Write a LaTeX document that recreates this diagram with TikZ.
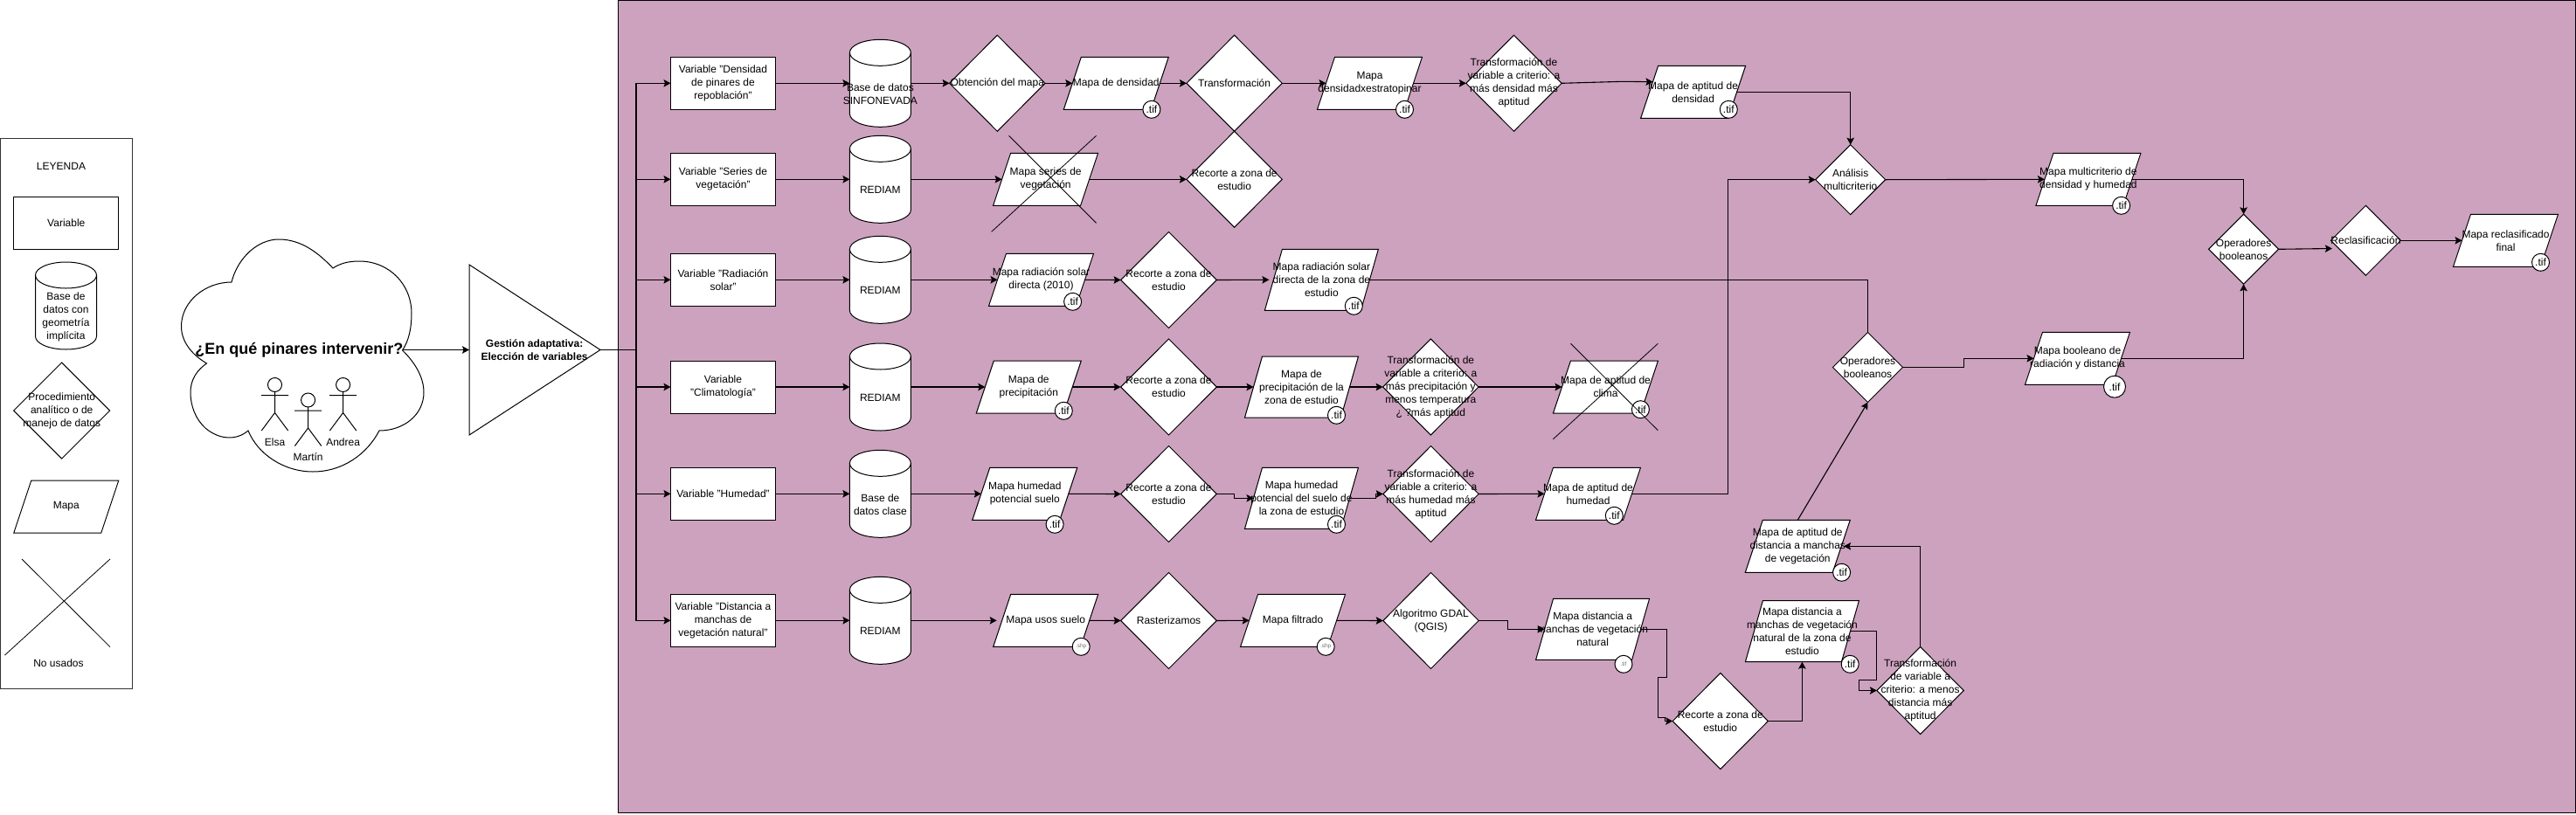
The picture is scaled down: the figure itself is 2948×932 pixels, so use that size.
\documentclass[tikz,border=0pt]{standalone}
\usepackage{fontspec}
\setmainfont{Liberation Sans}
\usetikzlibrary{shapes.geometric,arrows.meta}
\definecolor{panelpurple}{HTML}{CDA2BE}
\tikzset{
  shapeline/.style={draw=black,line width=1pt,fill=white,line join=miter},
  txt/.style={font=\fontsize{12}{15}\selectfont,align=center,inner sep=0pt,outer sep=0pt,text=black},
  vbox/.style={shapeline,rectangle,minimum width=120pt,minimum height=60pt,inner sep=0pt,outer sep=0pt,txt},
  hollow/.style={rectangle,inner sep=0pt,outer sep=0pt,txt},
  dia/.style={shapeline,diamond,aspect=1,inner sep=0pt,outer sep=0pt},
  badge/.style={shapeline,circle,inner sep=0pt,outer sep=0pt,minimum size=20pt,txt},
  conn/.style={draw=black,line width=1.1pt,line join=miter},
  arr/.style={conn,-{Stealth[length=8pt,width=8.5pt,inset=1.5pt]}},
  crossline/.style={draw=black,line width=0.8pt},
}
% parallelogram: name, cx, cy, w, h, text
\newcommand{\mapa}[6]{%
  \path[shapeline] ({#2-#4/2+20},{#3-#5/2}) -- ({#2+#4/2},{#3-#5/2}) -- ({#2+#4/2-20},{#3+#5/2}) -- ({#2-#4/2},{#3+#5/2}) -- cycle;
  \node[hollow,minimum width=#4pt,minimum height=#5pt] (#1) at (#2,#3) {#6};
  \coordinate (#1-l) at ({#2-#4/2+10},#3);
  \coordinate (#1-r) at ({#2+#4/2-10},#3);
}
% diamond: name, cx, cy, halfw, halfh, text
\newcommand{\proc}[6]{%
  \node[dia,minimum width={2*#4 pt},minimum height={2*#5 pt},label={[txt]center:{#6}}] (#1) at (#2,#3) {};
}
% cylinder: name, cx, ytop, ybottom, text, text y
\newcommand{\dbcyl}[6]{%
  \path[shapeline] ({#2-35},{#3+15}) .. controls ({#2-35},{#3+6.7}) and ({#2-19.3},#3) .. (#2,#3)
    .. controls ({#2+19.3},#3) and ({#2+35},{#3+6.7}) .. ({#2+35},{#3+15})
    -- ({#2+35},{#4-15}) .. controls ({#2+35},{#4-6.7}) and ({#2+19.3},#4) .. (#2,#4)
    .. controls ({#2-19.3},#4) and ({#2-35},{#4-6.7}) .. ({#2-35},{#4-15}) -- cycle;
  \path[draw=black,line width=1pt] ({#2-35},{#3+15}) .. controls ({#2-35},{#3+23.3}) and ({#2-19.3},{#3+30}) .. (#2,{#3+30})
    .. controls ({#2+19.3},{#3+30}) and ({#2+35},{#3+23.3}) .. ({#2+35},{#3+15});
  \node[hollow,minimum width=70pt,minimum height={#4-#3 pt}] (#1) at (#2,{(#3+#4)/2}) {};
  \node[txt] (#1-t) at (#2,#6) {#5};
}
\newcommand{\tifb}[3]{\node[badge] (#1) at (#2,#3) {.tif};}
\newcommand{\shpb}[3]{\node[badge,font=\fontsize{6.5}{8}\selectfont,text=black!55] (#1) at (#2,#3) {.shp};}
\newcommand{\crossmark}[8]{%
  \draw[crossline] (#1,#2) -- (#3,#4);
  \draw[crossline] (#5,#6) -- (#7,#8);
}
% stick figure: name, x, head y, label
\newcommand{\actor}[4]{%
  \draw[crossline,line width=1pt] (#2,#3) circle[radius=8pt];
  \draw[crossline,line width=1pt] (#2,{#3+7.8}) -- (#2,{#3+32}) -- ({#2-15.2},{#3+52.5}) (#2,{#3+32}) -- ({#2+15.2},{#3+52.5}) ({#2-15.5},{#3+12.2}) -- ({#2+15.5},{#3+12.2});
  \node[txt] (#1) at (#2,{#3+65.5}) {#4};
}
\begin{document}
\begin{tikzpicture}[x=1pt,y=-1pt]
\useasboundingbox (0,0) rectangle (2948,932);
% panel
\path[draw=black,line width=1.4pt,fill=panelpurple] (707.5,0.7) rectangle (2947.3,930.5);

% legend
\path[draw=black!80,line width=1pt,fill=white] (0.5,158) rectangle (151,788);
\node[txt] (leg-title) at (70,190) {LEYENDA};
\node[vbox] (leg-var) at (75.8,255) {Variable};
\dbcyl{leg-db}{75.5}{300}{400}{Base de\\datos con\\geometría\\implícita}{363}
\proc{leg-proc}{70.7}{470}{55}{55}{Procedimiento\\analítico o de\\manejo de datos}
\mapa{leg-map}{75.8}{580}{120}{60}{Mapa}
\crossmark{25}{640}{126}{740.6}{126}{640}{5.5}{750}
\node[txt] (leg-no) at (67,759.5) {No usados};

% cloud
\path[shapeline] (265,323) .. controls (272,295) and (295,274) .. (319,274) .. controls (345,274) and (365,290) .. (381,307)
  .. controls (390,301) and (400,299) .. (411,299) .. controls (445,299) and (471,325) .. (471,359) .. controls (471,375) and (468,390) .. (460.5,401)
  .. controls (475,415) and (485,432) .. (485,449) .. controls (485,475) and (462,493) .. (434,493)
  .. controls (420,520) and (392,540) .. (358,540) .. controls (325,540) and (295,520) .. (284,493)
  .. controls (270,505) and (250,503) .. (235,490) .. controls (224,480) and (218,465) .. (218,449) .. controls (218,435) and (225,424) .. (236.5,416)
  .. controls (218,405) and (207.5,390) .. (207.5,373.6) .. controls (207.5,345) and (235,323) .. (265,323) -- cycle;
\node[txt,font=\bfseries\fontsize{18}{21}\selectfont] (question) at (342.3,400.5) {¿En qué pinares intervenir?};
\actor{elsa}{314.5}{440.5}{Elsa}
\actor{martin}{352.6}{458}{Martín}
\actor{andrea}{392.6}{440.5}{Andrea}

% triangle
\path[shapeline] (537,303) -- (687,400.5) -- (537,498) -- cycle;
\coordinate (tri-w) at (537,400.5);
\coordinate (tri-e) at (687,400.5);
\node[txt,font=\bfseries\fontsize{12}{15}\selectfont] (tri) at (611.6,400.5) {Gestión adaptativa:\\Elección de variables};
\coordinate (bus) at (728,400.5);

% variables
\node[vbox] (v1) at (827.5,95.3) {Variable "Densidad\\de pinares de\\repoblación"};
\node[vbox] (v2) at (827.5,205.3) {Variable "Series de\\vegetación"};
\node[vbox] (v3) at (827.5,320.3) {Variable "Radiación\\solar"};
\node[vbox] (v4) at (827.5,443) {Variable\\"Climatología"};
\node[vbox] (v5) at (827.5,565.3) {Variable "Humedad"};
\node[vbox] (v6) at (827.5,710.3) {Variable "Distancia a\\manchas de\\vegetación natural"};

% databases
\dbcyl{c1}{1007.4}{45.3}{145.3}{Base de datos\\SINFONEVADA}{108}
\dbcyl{c2}{1007.4}{155.3}{255.3}{REDIAM}{217.7}
\dbcyl{c3}{1007.4}{270.3}{370.3}{REDIAM}{332.7}
\dbcyl{c4}{1007.4}{393}{493}{REDIAM}{455.7}
\dbcyl{c5}{1007.4}{515.3}{615.3}{Base de\\datos clase}{578}
\dbcyl{c6}{1007.4}{660.3}{760.3}{REDIAM}{722.7}

% row 1
\proc{d1a}{1141.3}{95.3}{54.7}{55}{Obtención del mapa}
\mapa{p1a}{1277.3}{95.3}{120}{60}{Mapa de densidad}
\proc{d1b}{1412.6}{95.3}{54.7}{55}{Transformación}
\mapa{p1b}{1567.5}{95.3}{120}{60}{Mapa\\densidadxestratopinar}
\proc{d1c}{1732.5}{95.3}{54.7}{55}{Transformación de\\variable a criterio: a\\más densidad más\\aptitud}
\mapa{p1c}{1937.6}{105.3}{120}{60}{Mapa de aptitud de\\densidad}
\tifb{t1a}{1317.9}{125.3}
\tifb{t1b}{1607.5}{125.3}
\tifb{t1c}{1978.3}{125.3}

% row 2
\mapa{p2a}{1196.6}{205.3}{120}{60}{Mapa series de\\vegetación}
\proc{d2a}{1412.6}{205.3}{54.7}{55}{Recorte a zona de\\estudio}

% row 3
\mapa{p3a}{1191.5}{320.3}{120}{60}{Mapa radiación solar\\directa (2010)}
\proc{d3a}{1337.5}{320.5}{54.9}{55}{Recorte a zona de\\estudio}
\mapa{p3b}{1512.4}{320.3}{130}{70}{Mapa radiación solar\\directa de la zona de\\estudio}
\tifb{t3a}{1227.6}{345.3}
\tifb{t3b}{1549.3}{350.3}

% row 4
\mapa{p4a}{1177.3}{443}{120}{60}{Mapa de\\precipitación}
\proc{d4a}{1337.5}{443}{54.9}{55}{Recorte a zona de\\estudio}
\mapa{p4b}{1489.5}{443}{130}{70}{Mapa de\\precipitación de la\\zona de estudio}
\proc{d4b}{1637.3}{443}{54.7}{55}{Transformación de\\variable a criterio: a\\más precipitación y\\menos temperatura\\¿ ?más aptitud}
\mapa{p4c}{1837.5}{443}{120}{60}{Mapa de aptitud de\\clima}
\tifb{t4a}{1217.3}{470.3}
\tifb{t4b}{1529.5}{475.3}
\tifb{t4c}{1877.4}{468.7}

% row 5
\mapa{p5a}{1172.8}{565.3}{120}{60}{Mapa humedad\\potencial suelo}
\proc{d5a}{1337.5}{565.5}{54.9}{55}{Recorte a zona de\\estudio}
\mapa{p5b}{1489.5}{570.3}{130}{70}{Mapa humedad\\potencial del suelo de\\la zona de estudio}
\proc{d5b}{1637.5}{565.5}{54.7}{55}{Transformación de\\variable a criterio: a\\más humedad más\\aptitud}
\mapa{p5c}{1817.5}{565.3}{120}{60}{Mapa de aptitud de\\humedad}
\tifb{t5a}{1207.1}{600.3}
\tifb{t5b}{1529.5}{600.3}
\tifb{t5c}{1847.3}{590.3}

% row 6
\mapa{p6a}{1196.7}{710.3}{120}{60}{Mapa usos suelo}
\proc{d6a}{1337.5}{710.5}{54.9}{55}{Rasterizamos}
\mapa{p6b}{1479.6}{710.3}{120}{60}{Mapa filtrado}
\proc{d6b}{1637.5}{710.5}{54.7}{55}{Algoritmo GDAL\\(QGIS)}
\mapa{p6c}{1822.6}{720.3}{130}{70}{Mapa distancia a\\manchas de vegetación\\natural}
\shpb{t6a}{1237.2}{740.3}
\shpb{t6b}{1517.2}{740.3}
\node[badge,font=\fontsize{6.5}{8}\selectfont,text=black!55] (t6c) at (1858,760.3) {.tif};

% bottom right group
\proc{d7}{1968.8}{825.5}{54.6}{55}{Recorte a zona de\\estudio}
\mapa{p7}{2062.4}{722.7}{130}{70}{Mapa distancia a\\manchas de vegetación\\natural de la zona de\\estudio}
\proc{d8}{2197.6}{790.5}{49.7}{50}{Transformación\\de variable a\\criterio: a menos\\distancia más\\aptitud}
\mapa{p8}{2057.3}{625.3}{120}{60}{Mapa de aptitud de\\distancia a manchas\\de vegetación}
\tifb{t7}{2117.2}{760.3}
\tifb{t8}{2107.6}{655.3}

% analysis
\proc{am}{2117.7}{205.7}{40}{40}{Análisis\\multicriterio}
\proc{ob1}{2137.5}{420.5}{40}{40}{Operadores\\booleanos}
\mapa{p9}{2389.9}{205.3}{120}{60}{Mapa multicriterio de\\densidad y humedad}
\mapa{p10}{2377.5}{410.3}{120}{60}{Mapa booleano de\\radiación y distancia}
\proc{ob2}{2567.6}{285.3}{40}{40}{Operadores\\booleanos}
\proc{rc}{2707.4}{275.3}{40}{40}{Reclasificación}
\mapa{p11}{2867.5}{275.3}{120}{60}{Mapa reclasificado\\final}
\tifb{t9}{2427.6}{235.3}
\node[badge,minimum size=25pt] (t10) at (2420,442.7) {.tif};
\tifb{t11}{2907.5}{300.3}

% connectors
\draw[arr] (question.east) -- (tri-w);
\draw[conn] (tri-e) -- (bus);
\foreach \n in {v1,v2,v3,v4,v5,v6} {\draw[arr] (bus) |- (\n.west);}

\draw[arr] (v1.east) -- (c1.west);
\draw[arr] (c1.east) -- (d1a.west);
\draw[arr] (d1a.east) -- (p1a-l);
\draw[arr] (p1a-r) -- (d1b.west);
\draw[arr] (d1b.east) -- (p1b-l);
\draw[arr] (p1b-r) -- (d1c.west);
\draw[arr] (d1c.east) -- ++(70,-2) -- ([xshift=3.9pt,yshift=11.6pt]p1c-l);
\draw[arr] (p1c-r) -| (am.north);

\draw[arr] (v2.east) -- (c2.west);
\draw[arr] (c2.east) -- (p2a-l);
\draw[arr] (p2a-r) -- (d2a.west);

\draw[arr] (v3.east) -- (c3.west);
\draw[arr] (c3.east) -- (p3a-l);
\draw[arr] (p3a-r) -- (d3a.west);
\draw[arr] (d3a.east) -- ([xshift=-5pt]p3b-l);
\draw[conn] (p3b-r) -| (ob1.north);

\draw[arr] (v4.east) -- (c4.west);
\draw[arr] (c4.east) -- (p4a-l);
\draw[arr] (p4a-r) -- (d4a.west);
\draw[arr] (d4a.east) -- (p4b-l);
\draw[arr] (p4b-r) -- (d4b.west);
\draw[arr] (d4b.east) -- (p4c-l);

\draw[arr] (v5.east) -- (c5.west);
\draw[arr] (c5.east) -- (p5a-l);
\draw[arr] (p5a-r) -- (d5a.west);
\draw[arr] (d5a.east) -- ++(20.4,0) |- (p5b-l);
\draw[arr] (p5b-r) -- ++(29.9,0) |- (d5b.west);
\draw[arr] (d5b.east) -- (p5c-l);
\draw[arr] (p5c-r) -- ++(110,0) |- (am.west);

\draw[arr] (v6.east) -- (c6.west);
\draw[arr] (c6.east) -- ([xshift=-6pt]p6a-l);
\draw[arr] (p6a-r) -- (d6a.west);
\draw[arr] (d6a.east) -- (p6b-l);
\draw[arr] (p6b-r) -- (d6b.west);
\draw[arr] (d6b.east) -- ++(32.9,0) |- (p6c-l);
\draw[arr] (p6c-r) -- ++(29.9,0) -- ++(0,55) -- ++(-10.3,0) -- ++(0,46) -- ++(8.7,0) |- (d7.west);
\draw[arr] (d7.east) -| (p7.south);
\draw[arr] ([xshift=-9.6pt]p7.east) -- ++(29.6,0) -- ++(0,55.6) -- ++(-20,0) |- (d8.west);
\draw[arr] (d8.north) |- ([xshift=2.8pt]p8-r);
\draw[arr] (p8.north) -- (ob1.south);

\draw[arr] (am.east) -- (p9-l);
\draw[arr] (p9-r) -| (ob2.north);
\draw[arr] (ob1.east) -- ++(70.2,0) |- (p10-l);
\draw[arr] (p10-r) -| (ob2.south);
\draw[arr] (ob2.east) -- ([xshift=1.5pt,yshift=-9.2pt]rc.west);
\draw[arr] (rc.east) -- (p11-l);

% crossed out maps
\crossmark{1154.6}{155.3}{1254.6}{255.3}{1254.6}{155.3}{1134.7}{265.3}
\crossmark{1797.5}{393.3}{1897.4}{492.7}{1897.4}{393.3}{1777.4}{502.7}
\end{tikzpicture}
\end{document}
